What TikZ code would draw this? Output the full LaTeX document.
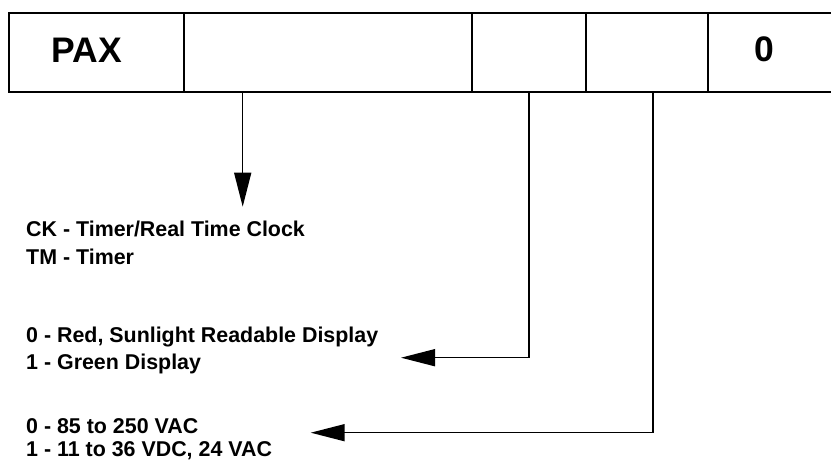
\documentclass[tikz,border=0pt]{standalone}
\usepackage{fontspec}
\setmainfont{Liberation Sans}
\usetikzlibrary{arrows.meta,calc}
\begin{document}
\begin{tikzpicture}[x=1pt,y=-1pt,
  cell/.style={draw,line width=1.5pt,inner sep=0pt,minimum height=79pt,anchor=north west},
  lbl/.style={inner sep=0pt,anchor=base west,font=\fontsize{21.4}{25}\selectfont\bfseries},
  big/.style={inner sep=0pt,anchor=base,font=\fontsize{35.5}{40}\selectfont\bfseries},
  conn/.style={line width=1.5pt,-{Triangle[length=34pt,width=17pt]}}]
\useasboundingbox (0,0) rectangle (831,460);
\fill[white] (0,0) rectangle (831,460);
\node[cell,minimum width=175pt] (c1) at (8,12.5) {};
\node[cell,minimum width=288pt] (c2) at (183,12.5) {};
\node[cell,minimum width=114pt] (c3) at (471,12.5) {};
\node[cell,minimum width=122pt] (c4) at (585,12.5) {};
\node[cell,minimum width=140pt] (c5) at (707,12.5) {};
\node[big] (pax) at (87,63) {PAX};
\node[big] (zero) at (764,62) {0};
\node[lbl] (ck) at (26,236.5) {CK - Timer/Real Time Clock};
\node[lbl] (tm) at (26,264.5) {TM - Timer};
\node[lbl] (red) at (26,342.5) {0 - Red, Sunlight Readable Display};
\node[lbl] (green) at (26,369.5) {1 - Green Display};
\node[lbl] (vac) at (26,433.5) {0 - 85 to 250 VAC};
\node[lbl] (vdc) at (26,456) {1 - 11 to 36 VDC, 24 VAC};
\coordinate (t1) at (242.7,206.7);
\coordinate (t2) at (401,357.7);
\coordinate (t3) at (310.7,432.7);
\coordinate (b3) at (653,432.7);
\draw[conn] (c2.south -| t1) -- (t1);
\draw[conn] (c3.south) |- (t2);
\draw[conn] (c4.south -| b3) -- (b3) -- (t3);
\end{tikzpicture}
\end{document}
